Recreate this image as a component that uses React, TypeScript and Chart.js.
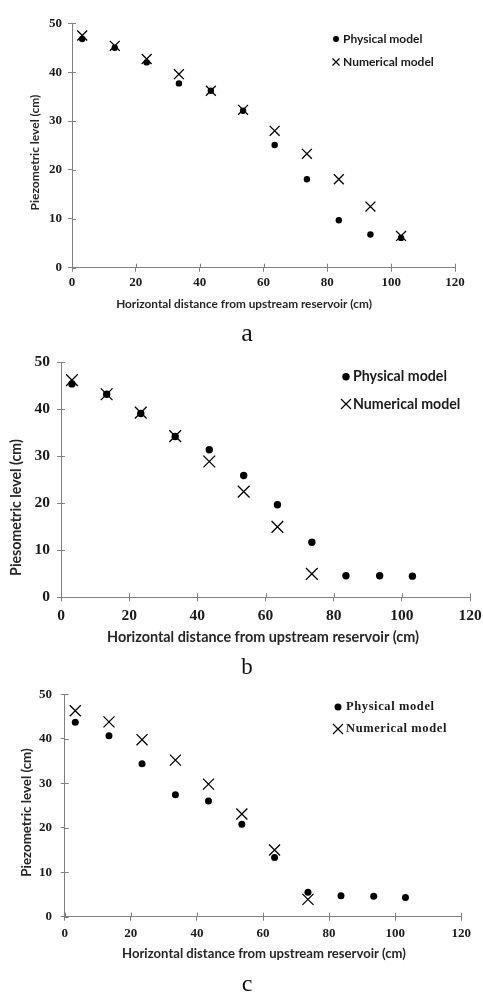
import React, { useEffect, useRef } from "react";
import { Chart, registerables } from "chart.js";

Chart.register(...registerables);

// ---- data ----
const distanceCm = [3.2, 13.4, 23.4, 33.5, 43.5, 53.6, 63.5, 73.6, 83.6, 93.5, 103.1];
const physicalA = [46.8, 45.0, 42.0, 37.7, 36.2, 32.1, 25.1, 18.1, 9.7, 6.8, 6.1];
const numericalA = [47.5, 45.4, 42.7, 39.6, 36.2, 32.3, 28.0, 23.3, 18.1, 12.5, 6.5];
const physicalB = [45.4, 43.2, 39.1, 34.2, 31.4, 25.9, 19.7, 11.7, 4.6, 4.6, 4.5];
const numericalB = [46.2, 43.2, 39.3, 34.3, 28.9, 22.5, 15.0, 5.0];
const physicalC = [43.7, 40.7, 34.4, 27.4, 26.0, 20.8, 13.3, 5.5, 4.7, 4.6, 4.3];
const numericalC = [46.3, 43.8, 39.8, 35.2, 29.8, 23.1, 15.0, 3.9];
const xTickValues = [0, 20, 40, 60, 80, 100, 120];
const yTickValues = [0, 10, 20, 30, 40, 50];
const seriesNames = ["Physical model", "Numerical model"];
const panelLetters = ["a", "b", "c"];
const xTitle = "Horizontal distance from upstream reservoir (cm)";
const yTitles = ["Piezometric level (cm)", "Piesometric level (cm)", "Piezometric level (cm)"];

const AXIS = "#808080";
const TEXT = "#1a1a1a";
const TITLE = "#262626";
const MARK = "#000000";

type PanelStyle = {
  top: number;
  height: number;
  plot: { left: number; right: number; top: number; bottom: number };
  tickFont: number;
  xLabelCenter: number;
  yLabelRight: number;
  xTitleFont: number;
  yTitleFont: number;
  xTitlePos: [number, number];
  yTitlePos: [number, number];
  dotR: number;
  crossR: number;
  legend: {
    x: number;
    y: number;
    gap: number;
    textX: number;
    font: string;
    letterSpacing: string;
    dotR: number;
    crossHalf: number;
  };
  letterFont: number;
  letterBaseline: number;
};

const styles: PanelStyle[] = [
  {
    top: 0,
    height: 322,
    plot: { left: 72, right: 455, top: 23.3, bottom: 267.7 },
    tickFont: 13,
    xLabelCenter: 282.7,
    yLabelRight: 62,
    xTitleFont: 11.8,
    yTitleFont: 12,
    xTitlePos: [244, 304],
    yTitlePos: [35.5, 152.5],
    dotR: 3.2,
    crossR: 7,
    legend: { x: 336, y: 39, gap: 23, textX: 343, font: "bold 12px Lato", letterSpacing: "0px", dotR: 3, crossHalf: 3.5 },
    letterFont: 26,
    letterBaseline: 341.5,
  },
  {
    top: 322,
    height: 328,
    plot: { left: 61, right: 470, top: 40.3, bottom: 275.3 },
    tickFont: 15.5,
    xLabelCenter: 293.7,
    yLabelRight: 50,
    xTitleFont: 14.4,
    yTitleFont: 14.2,
    xTitlePos: [263, 315.3],
    yTitlePos: [16, 185.5],
    dotR: 3.7,
    crossR: 8.3,
    legend: { x: 346, y: 54.7, gap: 27.3, textX: 353, font: "bold 14.2px Lato", letterSpacing: "0px", dotR: 3.7, crossHalf: 5 },
    letterFont: 23,
    letterBaseline: 674,
  },
  {
    top: 650,
    height: 342,
    plot: { left: 64.7, right: 461.3, top: 44.3, bottom: 266.7 },
    tickFont: 13,
    xLabelCenter: 284,
    yLabelRight: 52,
    xTitleFont: 13.1,
    yTitleFont: 13.3,
    xTitlePos: [264, 304],
    yTitlePos: [26.7, 162.5],
    dotR: 3.5,
    crossR: 7.8,
    legend: { x: 338, y: 57, gap: 22, textX: 346, font: "bold 12.5px 'Liberation Serif'", letterSpacing: "0.6px", dotR: 3.5, crossHalf: 5 },
    letterFont: 24,
    letterBaseline: 991.5,
  },
];

const panelData = [
  { physical: physicalA, numerical: numericalA },
  { physical: physicalB, numerical: numericalB },
  { physical: physicalC, numerical: numericalC },
];

const W = 483;

const innerTicksPlugin = {
  id: "innerTicks",
  afterDraw(chart: any) {
    const { ctx, chartArea, scales } = chart;
    ctx.save();
    ctx.strokeStyle = AXIS;
    ctx.lineWidth = 1;
    ctx.beginPath();
    scales.x.ticks.forEach((t: any) => {
      const px = Math.round(scales.x.getPixelForValue(t.value)) + 0.5;
      ctx.moveTo(px, chartArea.bottom);
      ctx.lineTo(px, chartArea.bottom - 4);
    });
    scales.y.ticks.forEach((t: any) => {
      const py = Math.round(scales.y.getPixelForValue(t.value)) + 0.5;
      ctx.moveTo(chartArea.left, py);
      ctx.lineTo(chartArea.left + 4, py);
    });
    ctx.stroke();
    ctx.restore();
  },
};

const axisTitlesPlugin = {
  id: "axisTitles",
  afterDraw(chart: any, _args: any, opts: any) {
    if (!opts || !opts.x) return;
    const ctx = chart.ctx;
    ctx.save();
    ctx.fillStyle = TITLE;
    ctx.textAlign = "center";
    ctx.textBaseline = "middle";
    ctx.font = opts.x.font;
    ctx.fillText(opts.x.text, opts.x.pos[0], opts.x.pos[1]);
    ctx.translate(opts.y.pos[0], opts.y.pos[1]);
    ctx.rotate(-Math.PI / 2);
    ctx.font = opts.y.font;
    ctx.fillText(opts.y.text, 0, 0);
    ctx.restore();
  },
};

const insetLegendPlugin = {
  id: "insetLegend",
  afterDraw(chart: any, _args: any, opts: any) {
    if (!opts || !opts.items) return;
    const ctx = chart.ctx;
    ctx.save();
    opts.items.forEach((it: any, i: number) => {
      const y = opts.y + i * opts.gap;
      if (it.kind === "dot") {
        ctx.fillStyle = MARK;
        ctx.beginPath();
        ctx.arc(opts.x, y, opts.dotR, 0, Math.PI * 2);
        ctx.fill();
      } else {
        const s = opts.crossHalf;
        ctx.strokeStyle = MARK;
        ctx.lineWidth = 1.2;
        ctx.beginPath();
        ctx.moveTo(opts.x - s, y - s);
        ctx.lineTo(opts.x + s, y + s);
        ctx.moveTo(opts.x - s, y + s);
        ctx.lineTo(opts.x + s, y - s);
        ctx.stroke();
      }
      ctx.fillStyle = TEXT;
      ctx.font = opts.font;
      try {
        (ctx as any).letterSpacing = opts.letterSpacing;
      } catch (e) {}
      ctx.textBaseline = "middle";
      ctx.textAlign = "left";
      ctx.fillText(it.text, opts.textX, y);
    });
    ctx.restore();
  },
};

function Panel({ index }: { index: number }) {
  const ref = useRef<HTMLCanvasElement | null>(null);
  const st = styles[index];
  const d = panelData[index];

  useEffect(() => {
    if (!ref.current) return;
    const tickLen = 4;
    const tickLH = st.tickFont * 1.2;
    const xAxisH = st.height - st.plot.bottom;
    const xTickPad = st.xLabelCenter - st.plot.bottom - tickLen - tickLH / 2;
    const yTickPad = st.plot.left - tickLen - st.yLabelRight;

    const chart = new Chart(ref.current, {
      type: "scatter",
      data: {
        datasets: [
          {
            label: seriesNames[0],
            data: d.physical.map((v, i) => ({ x: distanceCm[i], y: v })),
            pointStyle: "circle",
            pointRadius: st.dotR,
            pointHoverRadius: st.dotR,
            backgroundColor: MARK,
            borderColor: MARK,
            borderWidth: 0,
            order: 2,
          },
          {
            label: seriesNames[1],
            data: d.numerical.map((v, i) => ({ x: distanceCm[i], y: v })),
            pointStyle: "crossRot",
            pointRadius: st.crossR,
            pointHoverRadius: st.crossR,
            backgroundColor: MARK,
            borderColor: MARK,
            borderWidth: 1.3,
            order: 1,
          },
        ],
      },
      options: {
        responsive: false,
        animation: false,
        devicePixelRatio: 1,
        layout: {
          padding: { left: 0, top: st.plot.top, right: W - st.plot.right, bottom: 0 },
        },
        plugins: {
          legend: { display: false },
          tooltip: { enabled: false },
          axisTitles: {
            x: { text: xTitle, font: `bold ${st.xTitleFont}px Lato`, pos: st.xTitlePos },
            y: { text: yTitles[index], font: `bold ${st.yTitleFont}px Lato`, pos: st.yTitlePos },
          },
          insetLegend: {
            ...st.legend,
            items: [
              { kind: "dot", text: seriesNames[0] },
              { kind: "cross", text: seriesNames[1] },
            ],
          },
        } as any,
        scales: {
          x: {
            type: "linear",
            min: xTickValues[0],
            max: xTickValues[xTickValues.length - 1],
            afterBuildTicks: (scale: any) => {
              scale.ticks = xTickValues.map((v) => ({ value: v }));
            },
            afterFit: (scale: any) => {
              scale.height = xAxisH;
              scale.paddingLeft = 0;
              scale.paddingRight = 0;
            },
            grid: { drawOnChartArea: false, drawTicks: true, tickLength: tickLen, color: AXIS, lineWidth: 1 },
            border: { color: AXIS, width: 1 },
            ticks: {
              autoSkip: false,
              maxRotation: 0,
              padding: xTickPad,
              color: TEXT,
              font: { family: "'Liberation Serif'", size: st.tickFont, weight: "bold" },
            },
            title: { display: false },
          },
          y: {
            type: "linear",
            min: yTickValues[0],
            max: yTickValues[yTickValues.length - 1],
            afterBuildTicks: (scale: any) => {
              scale.ticks = yTickValues.map((v) => ({ value: v }));
            },
            afterFit: (scale: any) => {
              scale.width = st.plot.left;
              scale.paddingTop = 0;
              scale.paddingBottom = 0;
            },
            grid: { drawOnChartArea: false, drawTicks: true, tickLength: tickLen, color: AXIS, lineWidth: 1 },
            border: { color: AXIS, width: 1 },
            ticks: {
              padding: yTickPad,
              color: TEXT,
              font: { family: "'Liberation Serif'", size: st.tickFont, weight: "bold" },
            },
            title: { display: false },
          },
        },
      } as any,
      plugins: [innerTicksPlugin, axisTitlesPlugin, insetLegendPlugin],
    });
    return () => chart.destroy();
  }, [index]);

  return (
    <canvas
      ref={ref}
      width={W}
      height={st.height}
      style={{ position: "absolute", left: 0, top: st.top, width: W, height: st.height }}
    />
  );
}

export default function App() {
  return (
    <div style={{ position: "absolute", left: 0, top: 0, width: W, height: 992, background: "#fff", overflow: "hidden" }}>
      {panelLetters.map((_, i) => (
        <Panel key={"p" + i} index={i} />
      ))}
      {panelLetters.map((letter, i) => {
        const st = styles[i];
        const fs = st.letterFont;
        return (
          <div
            key={"l" + i}
            style={{
              position: "absolute",
              left: 0,
              width: 494,
              textAlign: "center",
              top: st.letterBaseline - fs * 0.8375,
              fontFamily: "'Liberation Serif', serif",
              fontSize: fs,
              lineHeight: fs + "px",
              color: "#111",
              zIndex: 2,
            }}
          >
            {letter}
          </div>
        );
      })}
    </div>
  );
}
